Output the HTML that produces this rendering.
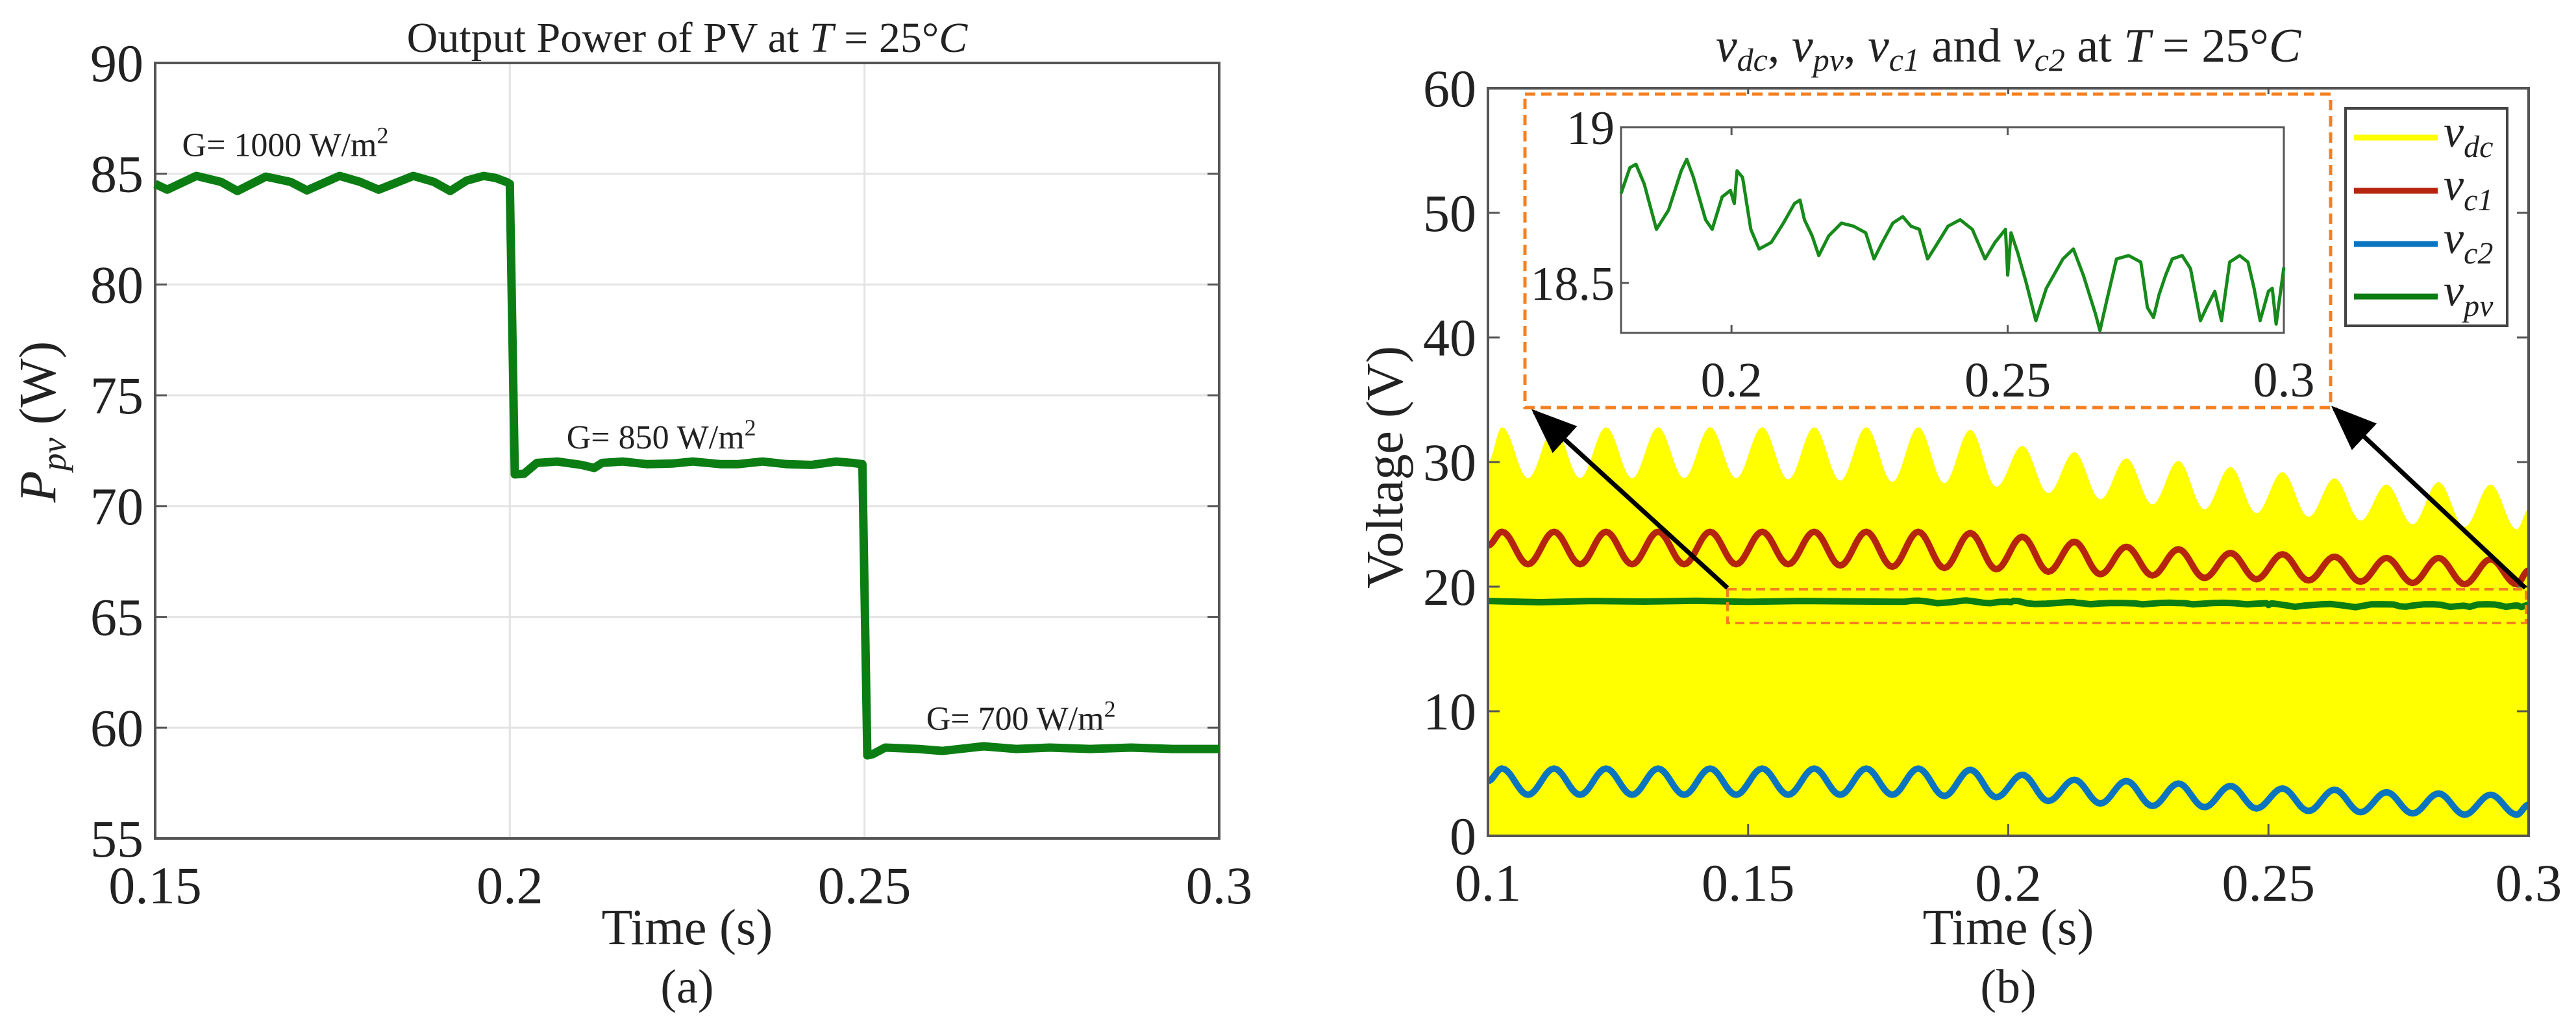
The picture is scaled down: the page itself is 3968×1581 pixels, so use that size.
<!DOCTYPE html>
<html><head><meta charset="utf-8"><style>
html,body{margin:0;padding:0;background:#fff;}
svg{display:block;font-family:"Liberation Serif",serif;}
</style></head><body>
<svg id="fig" width="3968" height="1581" viewBox="0 0 3968 1581" xmlns="http://www.w3.org/2000/svg"></svg>
<script>
// ---------- Panel (a) data ----------
const pTimes=[0.1500,0.1517,0.1558,0.1593,0.1616,0.1656,0.1691,0.1714,0.1760,0.1789,0.1815,0.1864,0.1893,0.1916,0.1939,0.1963,0.1980,0.1995,0.2000,0.2007,0.2020,0.2038,0.2067,0.2101,0.2119,0.2130,0.2159,0.2194,0.2229,0.2258,0.2298,0.2321,0.2356,0.2391,0.2425,0.2460,0.2483,0.2497,0.2504,0.2512,0.2529,0.2576,0.2610,0.2668,0.2714,0.2761,0.2818,0.2876,0.2934,0.3000];
const pValues=[84.54,84.28,84.90,84.63,84.22,84.87,84.63,84.25,84.90,84.63,84.28,84.90,84.63,84.22,84.69,84.90,84.81,84.63,84.54,71.43,71.46,71.95,72.01,71.86,71.72,71.95,72.01,71.89,71.92,72.01,71.89,71.89,72.01,71.89,71.86,72.01,71.95,71.89,58.75,58.81,59.10,59.04,58.95,59.16,59.04,59.10,59.04,59.10,59.04,59.04];
const aXTicks=[0.15,0.2,0.25,0.3];
const aXTickLabels=["0.15","0.2","0.25","0.3"];
const aYTicks=[55,60,65,70,75,80,85,90];
const annoText=["G= 1000 W/m","G= 850 W/m","G= 700 W/m"];
const annoT=[0.1538,0.2080,0.2587];
const annoP=[85.8,72.6,59.9];

// ---------- Panel (b) data ----------
const peakTimes=[0.1027,0.1127,0.1227,0.1327,0.1427,0.1527,0.1627,0.1727,0.1827,0.1927,0.2027,0.2127,0.2227,0.2327,0.2427,0.2527,0.2627,0.2727,0.2827,0.2927];
const vdcPeaks=[32.8,32.8,32.8,32.8,32.8,32.8,32.8,32.8,32.8,32.6,31.3,30.8,30.3,30.1,29.6,29.2,28.7,28.2,28.4,28.2];
const vdcTroughs=[28.7,28.7,28.7,28.7,28.7,28.6,28.5,28.4,28.3,28.0,27.5,27.0,26.6,26.2,25.9,25.6,25.3,25.0,24.8,24.6];
const vdcStart=30.0, vdcEnd=26.2;
const vc1Peaks=[24.4,24.4,24.4,24.4,24.4,24.4,24.4,24.4,24.4,24.3,24.0,23.6,23.2,23.0,22.7,22.6,22.4,22.3,22.3,22.2];
const vc1Troughs=[21.8,21.8,21.8,21.8,21.8,21.8,21.7,21.6,21.5,21.4,21.2,21.0,20.9,20.7,20.6,20.5,20.4,20.3,20.2,20.2];
const vc1Start=23.3, vc1End=21.3;
const vc2Peaks=[5.4,5.4,5.4,5.4,5.4,5.4,5.4,5.4,5.4,5.3,4.9,4.5,4.4,4.2,4.0,3.8,3.7,3.5,3.4,3.3];
const vc2Troughs=[3.3,3.3,3.3,3.3,3.3,3.3,3.3,3.3,3.2,3.1,2.8,2.6,2.4,2.3,2.2,2.0,1.9,1.8,1.7,1.7];
const vc2Start=4.4, vc2End=2.5;
const vpvTimes=[0.1000,0.1100,0.1200,0.1300,0.1400,0.1500,0.1600,0.1700,0.1800,0.1816,0.1827,0.1842,0.1864,0.1886,0.1909,0.1919,0.1931,0.1953,0.1965,0.1983,0.1998,0.2005,0.2010,0.2020,0.2035,0.2050,0.2072,0.2094,0.2114,0.2124,0.2132,0.2146,0.2158,0.2176,0.2199,0.2221,0.2243,0.2258,0.2273,0.2292,0.2310,0.2325,0.2340,0.2355,0.2370,0.2392,0.2414,0.2436,0.2459,0.2477,0.2496,0.2500,0.2506,0.2518,0.2533,0.2551,0.2570,0.2600,0.2619,0.2637,0.2659,0.2667,0.2679,0.2697,0.2719,0.2741,0.2753,0.2764,0.2774,0.2786,0.2798,0.2816,0.2831,0.2849,0.2860,0.2875,0.2887,0.2902,0.2920,0.2935,0.2946,0.2957,0.2972,0.2979,0.2986,0.3000];
const vpvValues=[18.85,18.75,18.85,18.80,18.87,18.78,18.85,18.82,18.787,18.870,18.881,18.818,18.672,18.734,18.860,18.897,18.839,18.703,18.672,18.776,18.797,18.755,18.860,18.839,18.672,18.609,18.630,18.692,18.755,18.766,18.703,18.651,18.588,18.651,18.692,18.682,18.661,18.577,18.630,18.692,18.713,18.682,18.672,18.577,18.619,18.682,18.703,18.672,18.577,18.630,18.672,18.525,18.661,18.598,18.504,18.379,18.483,18.577,18.609,18.525,18.400,18.347,18.441,18.577,18.588,18.567,18.421,18.389,18.462,18.525,18.577,18.588,18.546,18.379,18.421,18.473,18.379,18.567,18.588,18.567,18.483,18.379,18.473,18.483,18.368,18.550];
const bXTicks=[0.1,0.15,0.2,0.25,0.3];
const bXTickLabels=["0.1","0.15","0.2","0.25","0.3"];
const bYTicks=[0,10,20,30,40,50,60];
const inXTicks=[0.2,0.25,0.3];
const inXTickLabels=["0.2","0.25","0.3"];
const inYTicks=[18.5,19];
const inYTickLabels=["18.5","19"];
const legendLabels=["dc","c1","c2","pv"];

const NS="http://www.w3.org/2000/svg";
const svg=document.getElementById('fig');
function mk(tag,attrs,parent){const e=document.createElementNS(NS,tag);for(const k in attrs)e.setAttribute(k,attrs[k]);(parent||svg).appendChild(e);return e;}

const TICK=82;

// ---------- scales ----------
const A={x0:239,x1:1878,y0:97,y1:1292,tmin:0.15,tmax:0.3,pmin:55,pmax:90};
const ax=t=>A.x0+(t-A.tmin)/(A.tmax-A.tmin)*(A.x1-A.x0);
const ay=p=>A.y1-(p-A.pmin)/(A.pmax-A.pmin)*(A.y1-A.y0);
const B={x0:2292,x1:3895,y0:136,y1:1288,tmin:0.1,tmax:0.3,vmin:0,vmax:60};
const bx=t=>B.x0+(t-B.tmin)/(B.tmax-B.tmin)*(B.x1-B.x0);
const by=v=>B.y1-(v-B.vmin)/(B.vmax-B.vmin)*(B.y1-B.y0);
const I={x0:2497,x1:3518,y0:196,y1:513,tmin:0.18,tmax:0.3};
const ix=t=>I.x0+(t-I.tmin)/(I.tmax-I.tmin)*(I.x1-I.x0);
const iy=v=>I.y0+(19-v)/0.5*240;

// ================= Panel (a) =================
const gA=mk('g',{});


mk('rect',{x:A.x0,y:A.y0,width:A.x1-A.x0,height:A.y1-A.y0,fill:'#fff'},gA);
aYTicks.forEach(v=>{
  if(v!==55&&v!==90){const g=mk('line',{x1:A.x0,x2:A.x1,y1:ay(v),y2:ay(v),stroke:'#e3e3e3','stroke-width':3},gA);
  }
  mk('line',{x1:A.x0,x2:A.x0+18,y1:ay(v),y2:ay(v),stroke:'#555','stroke-width':3},gA);
  mk('line',{x1:A.x1,x2:A.x1-18,y1:ay(v),y2:ay(v),stroke:'#555','stroke-width':3},gA);
  const t=mk('text',{x:A.x0-18,y:ay(v)+28,'text-anchor':'end','font-size':TICK,fill:'#222'},gA);
  t.textContent=v;
  
});
aXTicks.forEach((v,i)=>{
  if(i>0&&i<aXTicks.length-1){const g=mk('line',{x1:ax(v),x2:ax(v),y1:A.y0,y2:A.y1,stroke:'#e3e3e3','stroke-width':3},gA);
  }
  const t=mk('text',{x:ax(v),y:A.y1+100,'text-anchor':'middle','font-size':TICK,fill:'#222'},gA);
  t.textContent=aXTickLabels[i];
  
});
mk('rect',{x:A.x0,y:A.y0,width:A.x1-A.x0,height:A.y1-A.y0,fill:'none',stroke:'#555','stroke-width':4},gA);
let dA='';pTimes.forEach((t,i)=>{dA+=(i?'L':'M')+ax(t).toFixed(1)+','+ay(pValues[i]).toFixed(1);});
const lineA=mk('path',{d:dA,fill:'none',stroke:'#0b7d12','stroke-width':13,'stroke-linejoin':'round'},gA);

annoText.forEach((s,i)=>{
  const t=mk('text',{x:ax(annoT[i]),y:ay(annoP[i]),'font-size':52,fill:'#222'},gA);
  
  t.appendChild(document.createTextNode(s));
  const sp=mk('tspan',{'font-size':36,dy:-20},t);sp.textContent='2';
});
const tA=mk('text',{x:(A.x0+A.x1)/2,y:80,'text-anchor':'middle','font-size':66,fill:'#222'},gA);

tA.innerHTML='Output Power of PV at <tspan font-style="italic">T</tspan> = 25°<tspan font-style="italic">C</tspan>';
const xlA=mk('text',{x:(A.x0+A.x1)/2,y:1455,'text-anchor':'middle','font-size':78,fill:'#222'},gA);
xlA.textContent='Time (s)';
const capA=mk('text',{x:(A.x0+A.x1)/2,y:1545,'text-anchor':'middle','font-size':74,fill:'#222'},gA);
capA.textContent='(a)';
const ylA=mk('text',{transform:'translate(85,650) rotate(-90)','text-anchor':'middle','font-size':80,fill:'#222'},gA);

ylA.innerHTML='<tspan font-style="italic">P</tspan><tspan font-style="italic" font-size="54" dy="16">pv</tspan><tspan dy="-16"> (W)</tspan>';

// ================= Panel (b) =================
function oscPath(start,end,peaks,troughs,sx,sy){
  const pts=[[B.tmin,start]];
  peakTimes.forEach((t,i)=>{pts.push([t,peaks[i]]);pts.push([t+0.005,troughs[i]]);});
  pts.push([B.tmax,end]);
  const out=[];
  for(let k=0;k<pts.length-1;k++){
    const [t0,v0]=pts[k],[t1,v1]=pts[k+1];
    const n=10;
    for(let j=(k?1:0);j<=n;j++){const f=j/n;const w=(1-Math.cos(Math.PI*f))/2;
      const t=Math.min(t0+(t1-t0)*f,B.tmax);out.push([sx(t),sy(v0+(v1-v0)*w)]);}
  }
  return out;
}
const gB=mk('g',{});

mk('rect',{x:B.x0,y:B.y0,width:B.x1-B.x0,height:B.y1-B.y0,fill:'#fff'},gB);
const vdcPts=oscPath(vdcStart,vdcEnd,vdcPeaks,vdcTroughs,bx,by);
let dF='M'+bx(B.tmin)+','+by(0);vdcPts.forEach(p=>dF+='L'+p[0].toFixed(1)+','+p[1].toFixed(1));dF+='L'+bx(B.tmax)+','+by(0)+'Z';
const fill=mk('path',{d:dF,fill:'#ffff00'},gB);

function drawLine(pts,color,w,name,parent){let d='';pts.forEach((p,i)=>d+=(i?'L':'M')+p[0].toFixed(1)+','+p[1].toFixed(1));
  const e=mk('path',{d:d,fill:'none',stroke:color,'stroke-width':w,'stroke-linejoin':'round'},parent);
  return e;}
drawLine(oscPath(vc1Start,vc1End,vc1Peaks,vc1Troughs,bx,by),'#b5250d',10,'vc1-line',gB);
drawLine(oscPath(vc2Start,vc2End,vc2Peaks,vc2Troughs,bx,by),'#0a74bf',10,'vc2-line',gB);
drawLine(vpvTimes.map((t,i)=>[bx(t),by(vpvValues[i])]),'#0b7d12',10,'vpv-line',gB);
bYTicks.forEach(v=>{
  mk('line',{x1:B.x0,x2:B.x0+18,y1:by(v),y2:by(v),stroke:'#555','stroke-width':3},gB);
  mk('line',{x1:B.x1,x2:B.x1-18,y1:by(v),y2:by(v),stroke:'#555','stroke-width':3},gB);
  const t=mk('text',{x:B.x0-18,y:by(v)+28,'text-anchor':'end','font-size':TICK,fill:'#222'},gB);
  t.textContent=v;
});
bXTicks.forEach((v,i)=>{
  mk('line',{x1:bx(v),x2:bx(v),y1:B.y1,y2:B.y1-18,stroke:'#555','stroke-width':3},gB);
  mk('line',{x1:bx(v),x2:bx(v),y1:B.y0,y2:B.y0+18,stroke:'#555','stroke-width':3},gB);
  const t=mk('text',{x:bx(v),y:B.y1+100,'text-anchor':'middle','font-size':TICK,fill:'#222'},gB);
  t.textContent=bXTickLabels[i];
});
mk('rect',{x:B.x0,y:B.y0,width:B.x1-B.x0,height:B.y1-B.y0,fill:'none',stroke:'#555','stroke-width':4},gB);
// zoom region & arrows
const zr=mk('rect',{x:2661,y:908,width:3891-2661,height:52,fill:'none',stroke:'#f57f20','stroke-width':4,'stroke-dasharray':'14,8'},gB);

mk('defs',{},gB).innerHTML='<marker id="ah" markerWidth="10" markerHeight="8" refX="9" refY="4" orient="auto" markerUnits="strokeWidth"><path d="M0,0 L10,4 L0,8 Z" fill="#000"/></marker>';
[[2661,906,2364,635],[3890,906,3596,630]].forEach(a=>{
  const l=mk('line',{x1:a[0],y1:a[1],x2:a[2],y2:a[3],stroke:'#000','stroke-width':7,'marker-end':'url(#ah)'},gB);
  
});
const zb=mk('rect',{x:2349,y:145,width:3590-2349,height:628-145,fill:'#fff',stroke:'#f57f20','stroke-width':5,'stroke-dasharray':'16,9'},gB);

// inset
const gI=mk('g',{},gB);

mk('rect',{x:I.x0,y:I.y0,width:I.x1-I.x0,height:I.y1-I.y0,fill:'#fff',stroke:'#555','stroke-width':3},gI);
inXTicks.forEach((v,i)=>{
  mk('line',{x1:ix(v),x2:ix(v),y1:I.y1,y2:I.y1-12,stroke:'#555','stroke-width':3},gI);
  mk('line',{x1:ix(v),x2:ix(v),y1:I.y0,y2:I.y0+12,stroke:'#555','stroke-width':3},gI);
  const t=mk('text',{x:ix(v),y:I.y1+98,'text-anchor':'middle','font-size':76,fill:'#222'},gI);
  t.textContent=inXTickLabels[i];
});
inYTicks.forEach((v,i)=>{
  mk('line',{x1:I.x0,x2:I.x0+12,y1:iy(v),y2:iy(v),stroke:'#555','stroke-width':3},gI);
  const t=mk('text',{x:I.x0-10,y:iy(v)+26,'text-anchor':'end','font-size':74,fill:'#222'},gI);
  t.textContent=inYTickLabels[i];
});
const insPts=[];vpvTimes.forEach((t,i)=>{if(t>=I.tmin)insPts.push([ix(t),iy(vpvValues[i])]);});
drawLine(insPts,'#168a1a',5,'inset-vpv-line',gI);
// legend
const gL=mk('g',{},gB);

mk('rect',{x:3613,y:167,width:249,height:335,fill:'#fff',stroke:'#444','stroke-width':4},gL);
const legColors=['#ffff00','#b5250d','#0a74bf','#0b7d12'];
const legY=[212,294,376,457];
legendLabels.forEach((s,i)=>{
  const l=mk('line',{x1:3626,x2:3755,y1:legY[i],y2:legY[i],stroke:legColors[i],'stroke-width':9},gL);
  
  const t=mk('text',{x:3764,y:legY[i]+14,'font-size':70,'font-style':'italic',fill:'#222'},gL);
  
  t.innerHTML='v<tspan font-size="48" dy="16">'+s+'</tspan>';
});
const tB=mk('text',{x:(B.x0+B.x1)/2,y:95,'text-anchor':'middle','font-size':74,fill:'#222'},gB);

tB.innerHTML='<tspan font-style="italic">v</tspan><tspan font-style="italic" font-size="50" dy="14">dc</tspan><tspan dy="-14">, </tspan><tspan font-style="italic">v</tspan><tspan font-style="italic" font-size="50" dy="14">pv</tspan><tspan dy="-14">, </tspan><tspan font-style="italic">v</tspan><tspan font-style="italic" font-size="50" dy="14">c1</tspan><tspan dy="-14"> and </tspan><tspan font-style="italic">v</tspan><tspan font-style="italic" font-size="50" dy="14">c2</tspan><tspan dy="-14"> at </tspan><tspan font-style="italic">T</tspan> = 25°<tspan font-style="italic">C</tspan>';
const xlB=mk('text',{x:(B.x0+B.x1)/2,y:1455,'text-anchor':'middle','font-size':78,fill:'#222'},gB);
xlB.textContent='Time (s)';
const capB=mk('text',{x:(B.x0+B.x1)/2,y:1545,'text-anchor':'middle','font-size':74,fill:'#222'},gB);
capB.textContent='(b)';
const ylB=mk('text',{transform:'translate(2160,720) rotate(-90)','text-anchor':'middle','font-size':80,fill:'#222'},gB);
ylB.textContent='Voltage (V)';
</script>
</body></html>
